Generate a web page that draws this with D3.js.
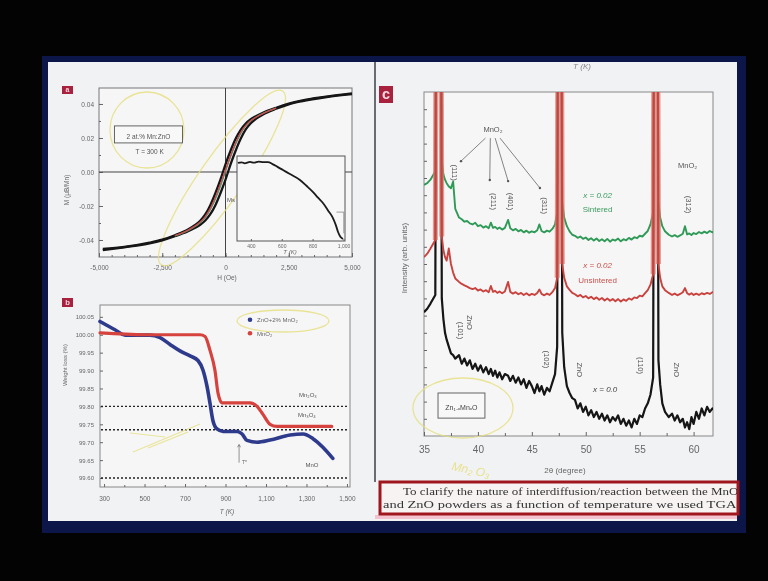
<!DOCTYPE html>
<html>
<head>
<meta charset="utf-8">
<script src="https://cdn.jsdelivr.net/npm/d3@7"></script>
<style>
  html, body { margin: 0; padding: 0; background: #030303; }
  svg { display: block; }
</style>
</head>
<body>
<svg id="chart" width="768" height="581"></svg>
<script>
// ---------- panel a : M(H) hysteresis, 2 at.% Mn:ZnO ----------
const hystH = [-4850, -4000, -3000, -2500, -2000, -1500, -1200, -1000, -800, -600, -400, -200,
  0, 200, 400, 600, 800, 1000, 1200, 1500, 2000, 2500, 3000, 4000, 5000];
const hystDown = [-0.0452, -0.0441, -0.0416, -0.0398, -0.0372, -0.0340, -0.0312, -0.0287, -0.0250, -0.0195, -0.0125, -0.0045,
  0.0045, 0.0125, 0.0195, 0.0248, 0.0285, 0.0310, 0.0328, 0.0350, 0.0378, 0.0402, 0.0420, 0.0443, 0.0462];
const hystUp = [-0.0460, -0.0443, -0.0420, -0.0402, -0.0378, -0.0350, -0.0328, -0.0310, -0.0285, -0.0248, -0.0195, -0.0125,
  -0.0045, 0.0045, 0.0125, 0.0195, 0.0250, 0.0287, 0.0312, 0.0340, 0.0372, 0.0398, 0.0416, 0.0441, 0.0458];
const hystMidH = [-2000, -1500, -1200, -1000, -800, -600, -400, -200, 0, 200, 400, 600, 800, 1000, 1200, 1500, 2000];
const hystGreen = [-0.0376, -0.0346, -0.0321, -0.0299, -0.0268, -0.0222, -0.0160, -0.0085, 0.0002, 0.0088, 0.0163, 0.0226,
  0.0271, 0.0301, 0.0322, 0.0346, 0.0376];
const hystRed = [-0.0374, -0.0343, -0.0317, -0.0294, -0.0262, -0.0214, -0.0148, -0.0070, 0.0012, 0.0096, 0.0170, 0.0232,
  0.0274, 0.0303, 0.0322, 0.0345, 0.0375];
const hTicks = [-5000, -2500, 0, 2500, 5000];
const hTickLabels = ['-5,000', '-2,500', '0', '2,500', '5,000'];
const mTicks = [-0.04, -0.02, 0, 0.02, 0.04];
const mTickLabels = ['-0.04', '-0.02', '0.00', '0.02', '0.04'];

// inset: Ms(T)
const insetT = [316, 340, 360, 394, 420, 450, 480, 511, 540, 570, 608, 650, 718, 760, 803, 835, 867, 900, 932, 950, 965, 980, 997];
const insetMs = [0.918, 0.926, 0.914, 0.930, 0.921, 0.935, 0.927, 0.929, 0.905, 0.875, 0.835, 0.790, 0.718, 0.650, 0.576,
  0.510, 0.447, 0.360, 0.270, 0.190, 0.106, 0.050, 0.024];
const insetTicks = [400, 600, 800, 1000];
const insetTickLabels = ['400', '600', '800', '1,000'];

// ---------- panel b : TGA ----------
const tgaBlueT = [280, 354, 404, 527, 577, 626, 675, 725, 764, 789, 809, 823, 838, 858, 888, 957, 982, 1006, 1056, 1120,
  1219, 1283, 1332, 1381, 1430];
const tgaBlueW = [100.037, 100.014, 99.999, 99.999, 99.992, 99.973, 99.955, 99.941, 99.928, 99.901, 99.855, 99.810, 99.760,
  99.737, 99.730, 99.730, 99.723, 99.705, 99.700, 99.706, 99.720, 99.723, 99.710, 99.686, 99.655];
const tgaRedT = [280, 500, 774, 799, 823, 848, 863, 883, 907, 1021, 1056, 1086, 1120, 1154, 1425];
const tgaRedW = [100.005, 100.0, 100.0, 99.995, 99.957, 99.900, 99.837, 99.810, 99.810, 99.810, 99.800, 99.777, 99.750,
  99.744, 99.744];
const oxideLevels = [99.80, 99.735, 99.60];
const oxideNames = ['Mn₂O₃', 'Mn₃O₄', 'MnO'];
const tTicks = [300, 500, 700, 900, 1100, 1300, 1500];
const tTickLabels = ['300', '500', '700', '900', '1,100', '1,300', '1,500'];
const wTicks = [99.60, 99.65, 99.70, 99.75, 99.80, 99.85, 99.90, 99.95, 100.00, 100.05];
const wTickLabels = ['99.60', '99.65', '99.70', '99.75', '99.80', '99.85', '99.90', '99.95', '100.00', '100.05'];
const tgaLegend = ['ZnO+2% MnO₂', 'MnO₂'];

// ---------- panel c : XRD ----------
const twoTheta = [
  35.0, 35.3, 35.6, 36.05,
  36.15, 36.35, 36.55,
  36.65, 36.8, 36.95, 37.1, 37.3, 37.5, 37.7, 37.9,
  38.25, 38.5, 38.75, 39.0, 39.25, 39.5, 39.75, 40.0,
  40.25, 40.5, 40.75, 41.0, 41.2, 41.4, 41.6, 41.8,
  42.0, 42.25, 42.5, 42.8, 43.0, 43.25, 43.5, 43.75,
  44.0, 44.25, 44.5, 44.75, 45.0, 45.25, 45.5, 45.7,
  45.9, 46.15, 46.4, 46.65, 46.9, 47.15, 47.35,
  47.45, 47.58, 47.72,
  47.82, 48.0, 48.25, 48.5, 48.75,
  49.0, 49.25, 49.5, 49.75, 50.0, 50.25, 50.5, 50.75,
  51.0, 51.25, 51.5, 51.75, 52.0, 52.25, 52.5, 52.75,
  53.0, 53.25, 53.5, 53.75, 54.0, 54.25, 54.5, 54.75,
  55.0, 55.25, 55.5, 55.75, 56.0,
  56.25,
  56.36, 56.5, 56.64,
  56.74, 56.9, 57.1, 57.35, 57.7,
  58.0, 58.25, 58.5, 58.75, 59.0,
  59.2, 59.4, 59.6, 59.8,
  60.0, 60.25, 60.5, 60.75, 61.0, 61.25, 61.5, 61.75, 62.0
];
const xrdUndoped = [
  36, 37, 38.5, 41,
  160, 420, 160,
  40, 34, 30, 28, 26, 24, 23.5, 22.5,
  23.5, 21, 22.5, 20.5, 22, 19.5, 21, 19,
  20.5, 18.5, 20, 18, 19.5, 17.5, 19, 17,
  18.5, 16.5, 18, 17.5, 16, 17.5, 15.5, 17,
  15, 16.5, 14, 16, 14.5, 12.5, 15, 13,
  14.5, 12, 14, 13, 15.5, 18, 26,
  160, 420, 160,
  30, 20, 14.5, 12.5, 11,
  10.5, 8, 9.5, 7, 8.5, 6, 7.5, 5.5,
  7, 5, 6.5, 4.5, 6, 4, 5.5, 4.5,
  6, 3.5, 5, 3, 4.5, 2.5, 5, 3.5,
  6, 5.5, 8, 9.5, 12,
  17,
  160, 420, 160,
  22, 15, 9.5, 7, 5.5,
  6.5, 4.5, 6, 4, 5,
  2.5, 4, 2, 5.5,
  3.5, 7, 5, 8, 6, 8.5, 7, 8, 7.5
];
const xrdSintered = [
  73, 73.5, 74.5, 77,
  160, 420, 160,
  80, 76, 74.5, 73.5, 72.5, 72, 74, 66,
  63.5, 63, 62.3, 62.5, 61.8, 61.5, 62, 61,
  61.3, 60.6, 61, 60.4, 62, 60.5, 60.8, 60.2,
  60.6, 60, 60.5, 62.8, 60.4, 59.8, 60.2, 59.5,
  59.9, 59.2, 59.7, 59.1, 59.5, 59.2, 59.8, 61.5,
  59.6, 59.2, 59.7, 59.4, 60.2, 61.5, 65,
  160, 420, 160,
  68, 63.5, 61, 59.5, 58.5,
  58.2, 57.6, 58, 57.3, 57.7, 57, 57.5, 56.8,
  57.4, 56.7, 57.2, 56.6, 57.3, 56.5, 57.1, 56.8,
  57.4, 56.6, 57.2, 56.9, 57.6, 57.1, 57.8, 57.5,
  58.2, 58, 58.8, 59.6, 61.5,
  65,
  160, 420, 160,
  68, 63.5, 61, 59.5, 58.5,
  58, 58.4, 57.9, 58.3, 58.8,
  61, 58.6, 58.9, 58.4,
  59, 58.7, 59.3, 58.9, 59.4, 59, 59.6, 59.2, 59.6
];
const xrdUnsintered = [
  52, 53, 54.5, 57,
  160, 420, 160,
  58, 54, 52, 51, 54.5, 50, 47.5, 45.8,
  44.8, 44.2, 43.8, 43.4, 43, 42.7, 43, 42.3,
  42.6, 42, 42.4, 41.8, 43.6, 41.9, 42.2, 41.6,
  42, 41.5, 42, 44.8, 41.9, 41.4, 41.8, 41.2,
  41.6, 41, 41.5, 40.9, 41.3, 41, 41.6, 42.6,
  41.3, 40.9, 41.4, 41, 41.8, 43, 46,
  160, 420, 160,
  50, 46, 43.5, 42.5, 41.6,
  41.2, 40.6, 41, 40.3, 40.7, 40, 40.5, 39.8,
  40.3, 39.6, 40.1, 39.4, 40, 39.3, 39.8, 39.2,
  39.8, 39.1, 39.7, 39.3, 40, 39.6, 40.3, 40.1,
  40.8, 40.6, 41.5, 42.4, 44,
  47,
  160, 420, 160,
  50, 46, 43.5, 42.4, 41.6,
  41, 41.4, 40.9, 41.3, 41.8,
  43, 41.5, 41.1, 41.5,
  41, 41.4, 41, 41.5, 41.2, 41.6, 41.3, 41.8, 41.9
];
// index ranges of the three ZnO reflections in twoTheta
const peakSlices = [[3, 8], [53, 58], [91, 96]];
const ttTicks = [35, 40, 45, 50, 55, 60];
const ttTickLabels = ['35', '40', '45', '50', '55', '60'];

const captionLines = [
  'To clarify the nature of interdiffusion/reaction between the MnO₂',
  'and ZnO powders as a function of temperature we used TGA.'
];

// ================= SETUP =================
const SANS = 'Liberation Sans, Arial, sans-serif';
const svg = d3.select('#chart');
const defs = svg.append('defs');
defs.append('filter').attr('id', 'soft')
  .append('feGaussianBlur').attr('stdDeviation', 0.45);

const root = svg.append('g').attr('filter', 'url(#soft)');

// slide frame
root.append('rect').attr('x', 42).attr('y', 56).attr('width', 704).attr('height', 477).attr('fill', '#0e1748');
root.append('rect').attr('x', 48).attr('y', 62).attr('width', 689).attr('height', 459).attr('fill', '#f1f2f4');
root.append('line').attr('x1', 375).attr('x2', 375).attr('y1', 62).attr('y2', 482)
  .attr('stroke', '#4a4a52').attr('stroke-width', 1.6);

function txt(g, x, y, s, o = {}) {
  return g.append('text').attr('x', x).attr('y', y).text(s)
    .attr('font-family', o.family || SANS)
    .attr('font-size', o.size || 7)
    .attr('font-style', o.italic ? 'italic' : null)
    .attr('fill', o.fill || '#555')
    .attr('text-anchor', o.anchor || 'middle')
    .attr('transform', o.rotate ? `rotate(${o.rotate},${x},${y})` : null);
}

function styleAxis(sel, size) {
  sel.select('.domain').remove();
  sel.selectAll('line').attr('stroke', '#666');
  sel.selectAll('text').attr('fill', '#666').attr('font-family', SANS).attr('font-size', size);
}

function panelTag(x, y, w, h, letter) {
  root.append('rect').attr('x', x).attr('y', y).attr('width', w).attr('height', h).attr('fill', '#a8203e');
  txt(root, x + w / 2, y + h * 0.78, letter, { size: h * 0.85, fill: '#f5d6de' }).attr('font-weight', 'bold');
}

// ================= PANEL A =================
const gA = root.append('g');
const xA = d3.scaleLinear().domain([-5000, 5000]).range([99, 352]);
const yA = d3.scaleLinear().domain([-0.05, 0.0494]).range([257, 88]);

gA.append('rect').attr('x', 99).attr('y', 88).attr('width', 253).attr('height', 169)
  .attr('fill', '#f6f6f7').attr('stroke', '#777').attr('stroke-width', 1);

gA.append('g').attr('transform', 'translate(99,0)')
  .call(d3.axisLeft(yA).tickValues(mTicks).tickFormat((d, i) => mTickLabels[i]).tickSizeInner(-4).tickSizeOuter(0).tickPadding(5))
  .call(s => styleAxis(s, 6.5));
gA.append('g').attr('transform', 'translate(99,0)')
  .call(d3.axisLeft(yA).tickValues(d3.range(-0.04, 0.045, 0.01)).tickFormat('').tickSizeInner(-2).tickSizeOuter(0))
  .call(s => styleAxis(s, 6.5));
gA.append('g').attr('transform', 'translate(0,257)')
  .call(d3.axisBottom(xA).tickValues(hTicks).tickFormat((d, i) => hTickLabels[i]).tickSizeInner(-4).tickSizeOuter(0).tickPadding(8))
  .call(s => styleAxis(s, 6.5));
gA.append('g').attr('transform', 'translate(0,257)')
  .call(d3.axisBottom(xA).tickValues(d3.range(-4500, 5000, 500)).tickFormat('').tickSizeInner(-2).tickSizeOuter(0))
  .call(s => styleAxis(s, 6.5));

// zero lines
gA.append('line').attr('x1', xA(0)).attr('x2', xA(0)).attr('y1', 88).attr('y2', 257).attr('stroke', '#444').attr('stroke-width', 1);
gA.append('line').attr('x1', 99).attr('x2', 352).attr('y1', yA(0)).attr('y2', yA(0)).attr('stroke', '#444').attr('stroke-width', 1);

// yellow scribbles (annotation in the photo)
const scribble = '#e6df7c';
gA.append('ellipse').attr('cx', 147).attr('cy', 130).attr('rx', 37).attr('ry', 38)
  .attr('fill', 'none').attr('stroke', scribble).attr('stroke-width', 1.3).attr('opacity', 0.8);
gA.append('ellipse').attr('cx', 222).attr('cy', 178).attr('rx', 106).attr('ry', 22)
  .attr('transform', 'rotate(-55,222,178)')
  .attr('fill', 'none').attr('stroke', scribble).attr('stroke-width', 1.3).attr('opacity', 0.8);

// inset
const xI = d3.scaleLinear().domain([310, 1010]).range([237, 345]);
const yI = d3.scaleLinear().domain([0, 1]).range([241, 156]);
gA.append('rect').attr('x', 237).attr('y', 156).attr('width', 108).attr('height', 85)
  .attr('fill', '#f7f7f8').attr('stroke', '#555').attr('stroke-width', 1);
gA.append('g').attr('transform', 'translate(0,241)')
  .call(d3.axisBottom(xI).tickValues(insetTicks).tickFormat((d, i) => insetTickLabels[i]).tickSizeInner(-2).tickSizeOuter(0).tickPadding(3))
  .call(s => styleAxis(s, 5));
gA.append('path')
  .attr('d', d3.line().x((d, i) => xI(insetT[i])).y(d => yI(d)).curve(d3.curveMonotoneX)(insetMs))
  .attr('fill', 'none').attr('stroke', '#1a1a1a').attr('stroke-width', 1.8);
gA.append('path')
  .attr('d', `M${xI(955)},${yI(0.34)}H${xI(1002)}V${yI(0.09)}`)
  .attr('fill', 'none').attr('stroke', '#777').attr('stroke-width', 0.7);
txt(gA, 231, 202, 'Ms', { size: 6, fill: '#555' });
txt(gA, 290, 254, 'T (K)', { size: 6, italic: true, fill: '#666' });

// hysteresis loops
const lineA = d3.line().x((d, i) => xA(hystH[i])).y(d => yA(d)).curve(d3.curveMonotoneX);
const lineAmid = d3.line().x((d, i) => xA(hystMidH[i])).y(d => yA(d)).curve(d3.curveMonotoneX);
[hystDown, hystUp].forEach(arr => {
  gA.append('path').attr('d', lineA(arr)).attr('fill', 'none').attr('stroke', '#151515').attr('stroke-width', 2.3);
});
gA.append('path').attr('d', lineAmid(hystGreen)).attr('fill', 'none').attr('stroke', '#3aa37d').attr('stroke-width', 1.3);
gA.append('path').attr('d', lineAmid(hystRed)).attr('fill', 'none').attr('stroke', '#cf4a4a').attr('stroke-width', 1.3);

// label box
gA.append('rect').attr('x', xA(-4390)).attr('y', yA(0.0271)).attr('width', xA(-1700) - xA(-4390)).attr('height', yA(0.0171) - yA(0.0271))
  .attr('fill', '#f8f8f8').attr('stroke', '#555').attr('stroke-width', 0.9);
txt(gA, xA(-3045), yA(0.0196), '2 at.% Mn:ZnO', { size: 6.5, fill: '#555' });
txt(gA, xA(-3000), yA(0.0105), 'T = 300 K', { size: 6.5, fill: '#555' });

txt(gA, 227, 280, 'H (Oe)', { size: 6.5, fill: '#666' });
txt(gA, 69, 190, 'M (μB/Mn)', { size: 6.5, fill: '#666', rotate: -90 });
panelTag(62, 86, 11, 8, 'a');

// ================= PANEL B =================
const gB = root.append('g');
const xB = d3.scaleLinear().domain([280, 1515]).range([100, 350]);
const yB = d3.scaleLinear().domain([99.575, 100.083]).range([487, 305]);

gB.append('rect').attr('x', 100).attr('y', 305).attr('width', 250).attr('height', 182)
  .attr('fill', '#f6f6f7').attr('stroke', '#888').attr('stroke-width', 1);
gB.append('g').attr('transform', 'translate(100,0)')
  .call(d3.axisLeft(yB).tickValues(wTicks).tickFormat((d, i) => wTickLabels[i]).tickSizeInner(-3).tickSizeOuter(0).tickPadding(6))
  .call(s => styleAxis(s, 6));
gB.append('g').attr('transform', 'translate(0,487)')
  .call(d3.axisBottom(xB).tickValues(tTicks).tickFormat((d, i) => tTickLabels[i]).tickSizeInner(-3).tickSizeOuter(0).tickPadding(9))
  .call(s => styleAxis(s, 6.5));
gB.append('g').attr('transform', 'translate(0,487)')
  .call(d3.axisBottom(xB).tickValues(d3.range(400, 1500, 200)).tickFormat('').tickSizeInner(-2).tickSizeOuter(0))
  .call(s => styleAxis(s, 6.5));

oxideLevels.forEach(lv => {
  gB.append('line').attr('x1', 101).attr('x2', 349).attr('y1', yB(lv)).attr('y2', yB(lv))
    .attr('stroke', '#222').attr('stroke-width', 1.4).attr('stroke-dasharray', '2,2');
});
txt(gB, xB(1307), yB(99.826), oxideNames[0], { size: 6, fill: '#555' });
txt(gB, xB(1302), yB(99.771), oxideNames[1], { size: 6, fill: '#555' });
txt(gB, xB(1327), yB(99.630), oxideNames[2], { size: 6, fill: '#555' });

gB.append('path')
  .attr('d', d3.line().x((d, i) => xB(tgaBlueT[i])).y(d => yB(d)).curve(d3.curveMonotoneX)(tgaBlueW))
  .attr('fill', 'none').attr('stroke', '#2f3b8c').attr('stroke-width', 3.6).attr('stroke-linecap', 'round');
gB.append('path')
  .attr('d', d3.line().x((d, i) => xB(tgaRedT[i])).y(d => yB(d)).curve(d3.curveMonotoneX)(tgaRedW))
  .attr('fill', 'none').attr('stroke', '#d6433d').attr('stroke-width', 3.2).attr('stroke-linecap', 'round');

// legend
gB.append('ellipse').attr('cx', 283).attr('cy', 321).attr('rx', 46).attr('ry', 11)
  .attr('fill', 'none').attr('stroke', scribble).attr('stroke-width', 1.3).attr('opacity', 0.8);
[['#2f3b8c', 100.042], ['#d6433d', 100.004]].forEach((c, i) => {
  gB.append('circle').attr('cx', xB(1021)).attr('cy', yB(c[1])).attr('r', 2.3).attr('fill', c[0]);
  txt(gB, xB(1021) + 7, yB(c[1]) + 2.2, tgaLegend[i], { size: 6, fill: '#666', anchor: 'start' });
});

// small arrow near 960 K
gB.append('line').attr('x1', xB(967)).attr('x2', xB(967)).attr('y1', yB(99.643)).attr('y2', yB(99.692))
  .attr('stroke', '#666').attr('stroke-width', 0.7);
gB.append('path').attr('d', `M${xB(967) - 1.5},${yB(99.686)}L${xB(967)},${yB(99.694)}L${xB(967) + 1.5},${yB(99.686)}`)
  .attr('fill', 'none').attr('stroke', '#666').attr('stroke-width', 0.7);
txt(gB, xB(967) + 3, yB(99.640), 'T*', { size: 5, fill: '#666', anchor: 'start' });

// yellow scribbles
[[130, 433, 165, 437], [133, 452, 200, 424], [148, 448, 188, 432]].forEach(s => {
  gB.append('line').attr('x1', s[0]).attr('y1', s[1]).attr('x2', s[2]).attr('y2', s[3])
    .attr('stroke', scribble).attr('stroke-width', 1.2).attr('opacity', 0.75);
});

txt(gB, 227, 514, 'T (K)', { size: 6.5, italic: true, fill: '#666' });
txt(gB, 67, 365, 'Weight loss (%)', { size: 6, fill: '#666', rotate: -90 });
panelTag(62, 298, 11, 9, 'b');

// ================= PANEL C =================
const gC = root.append('g');
const xC = d3.scaleLinear().domain([35, 61.8]).range([424, 713]);
const yC = d3.scaleLinear().domain([0, 100]).range([436, 92]);

defs.append('clipPath').attr('id', 'clipC')
  .append('rect').attr('x', 424).attr('y', 92).attr('width', 289).attr('height', 344);

gC.append('rect').attr('x', 424).attr('y', 92).attr('width', 289).attr('height', 344)
  .attr('fill', '#f6f6f7').attr('stroke', '#888').attr('stroke-width', 1);
gC.append('g').attr('transform', 'translate(424,0)')
  .call(d3.axisLeft(yC).tickValues(d3.range(5, 100, 5)).tickFormat('').tickSizeInner(-3).tickSizeOuter(0))
  .call(s => styleAxis(s, 9));
gC.append('g').attr('transform', 'translate(0,436)')
  .call(d3.axisBottom(xC).tickValues(ttTicks).tickFormat((d, i) => ttTickLabels[i]).tickSizeInner(-4).tickSizeOuter(0).tickPadding(10))
  .call(s => styleAxis(s, 10));
gC.append('g').attr('transform', 'translate(0,436)')
  .call(d3.axisBottom(xC).tickValues(d3.range(37.5, 61, 5)).tickFormat('').tickSizeInner(-3).tickSizeOuter(0))
  .call(s => styleAxis(s, 10));

const lineAt = off => d3.line().x((d, i) => xC(twoTheta[i + off])).y(d => yC(d));
const gCurves = gC.append('g').attr('clip-path', 'url(#clipC)');
const drawXrd = (arr, color, w) => gCurves.append('path').attr('d', lineAt(0)(arr.slice(0, twoTheta.length)))
  .attr('fill', 'none').attr('stroke', color).attr('stroke-width', w).attr('stroke-linejoin', 'round');
drawXrd(xrdUndoped, '#141414', 2.2);
drawXrd(xrdSintered, '#2f9a57', 1.9);
// the saturated ZnO reflections read as a broad salmon band in the photo
peakSlices.forEach(([a, b]) => {
  gCurves.append('path').attr('d', lineAt(a)(xrdUnsintered.slice(a, b)))
    .attr('fill', 'none').attr('stroke', '#d9786d').attr('stroke-width', 5).attr('opacity', 0.75)
    .attr('stroke-linejoin', 'round');
});
drawXrd(xrdUnsintered, '#c9433d', 1.9);

// MnO2 annotations
txt(gC, xC(41.4), yC(88.4), 'MnO₂', { size: 7.5, fill: '#555' });
[[38.43, 79.9], [41.1, 74.4], [42.8, 74.1], [45.75, 72.1]].forEach((t, i) => {
  const sx = xC(40.7 + i * 0.45), sy = yC(86.6);
  gC.append('line').attr('x1', sx).attr('y1', sy).attr('x2', xC(t[0])).attr('y2', yC(t[1]))
    .attr('stroke', '#666').attr('stroke-width', 0.8);
  gC.append('circle').attr('cx', xC(t[0])).attr('cy', yC(t[1])).attr('r', 1.2).attr('fill', '#555');
});
[['(111)', 37.6, 77.3], ['(211)', 41.2, 68.9], ['(401)', 42.8, 68.9], ['(311)', 45.9, 67.7], ['(312)', 59.3, 68.0]]
  .forEach(l => txt(gC, xC(l[1]), yC(l[2]) + 2.5, l[0], { size: 7.5, fill: '#555', rotate: 90 }));
txt(gC, xC(59.45), yC(77.9), 'MnO₂', { size: 7.5, fill: '#555' });

txt(gC, xC(51.1), yC(69.2), 'x = 0.02', { size: 8, fill: '#3a9a5c', italic: true });
txt(gC, xC(51.1), yC(65.1), 'Sintered', { size: 8, fill: '#3a9a5c' });
txt(gC, xC(51.1), yC(48.8), 'x = 0.02', { size: 8, fill: '#c9504a', italic: true });
txt(gC, xC(51.1), yC(44.5), 'Unsintered', { size: 8, fill: '#c9504a' });
txt(gC, xC(51.8), yC(12.8), 'x = 0.0', { size: 8, fill: '#444', italic: true });

[['(101)', 38.15, 31.4], ['ZnO', 39.0, 33.7], ['(102)', 46.1, 23.0], ['ZnO', 49.2, 20.0], ['(110)', 54.8, 21.2], ['ZnO', 58.2, 20.0]]
  .forEach(l => txt(gC, xC(l[1]), yC(l[2]) + 2.5, l[0], { size: 7.5, fill: '#555', rotate: 90 }));

gC.append('rect').attr('x', xC(36.3)).attr('y', yC(12.5)).attr('width', xC(40.65) - xC(36.3)).attr('height', yC(5.2) - yC(12.5))
  .attr('fill', '#f8f8f8').attr('stroke', '#555').attr('stroke-width', 0.9);
txt(gC, xC(38.47), yC(7.6), 'Zn₁₋ₓMnₓO', { size: 7, fill: '#444' });

gC.append('ellipse').attr('cx', 463).attr('cy', 408).attr('rx', 50).attr('ry', 30)
  .attr('fill', 'none').attr('stroke', scribble).attr('stroke-width', 1.3).attr('opacity', 0.8);
txt(gC, 470, 474, 'Mn₂ O₃', { size: 12, fill: scribble, italic: true, rotate: 12 }).attr('opacity', 0.85);

txt(gC, 565, 473, '2θ (degree)', { size: 8, fill: '#666' });
txt(gC, 407, 258, 'Intensity (arb. units)', { size: 8, fill: '#666', rotate: -90 });
txt(gC, 582, 69, 'T (K)', { size: 8, italic: true, fill: '#888' });
panelTag(379, 86, 14, 17, 'c');

// ================= CAPTION =================
root.append('rect').attr('x', 375).attr('y', 515).attr('width', 362).attr('height', 4).attr('fill', '#f2c3ce');
root.append('rect').attr('x', 380).attr('y', 482).attr('width', 358).attr('height', 32)
  .attr('fill', '#f7f3f3').attr('stroke', '#a0191f').attr('stroke-width', 3);
defs.append('clipPath').attr('id', 'clipCap')
  .append('rect').attr('x', 382).attr('y', 483).attr('width', 355).attr('height', 30);
const gCap = root.append('g').attr('clip-path', 'url(#clipCap)');
txt(gCap, 403, 495, captionLines[0], { size: 10.5, family: 'Liberation Serif, Times New Roman, serif', fill: '#333', anchor: 'start' })
  .attr('textLength', 340).attr('lengthAdjust', 'spacingAndGlyphs');
txt(gCap, 383, 508, captionLines[1], { size: 10.5, family: 'Liberation Serif, Times New Roman, serif', fill: '#333', anchor: 'start' })
  .attr('textLength', 357).attr('lengthAdjust', 'spacingAndGlyphs');
</script>
</body>
</html>
